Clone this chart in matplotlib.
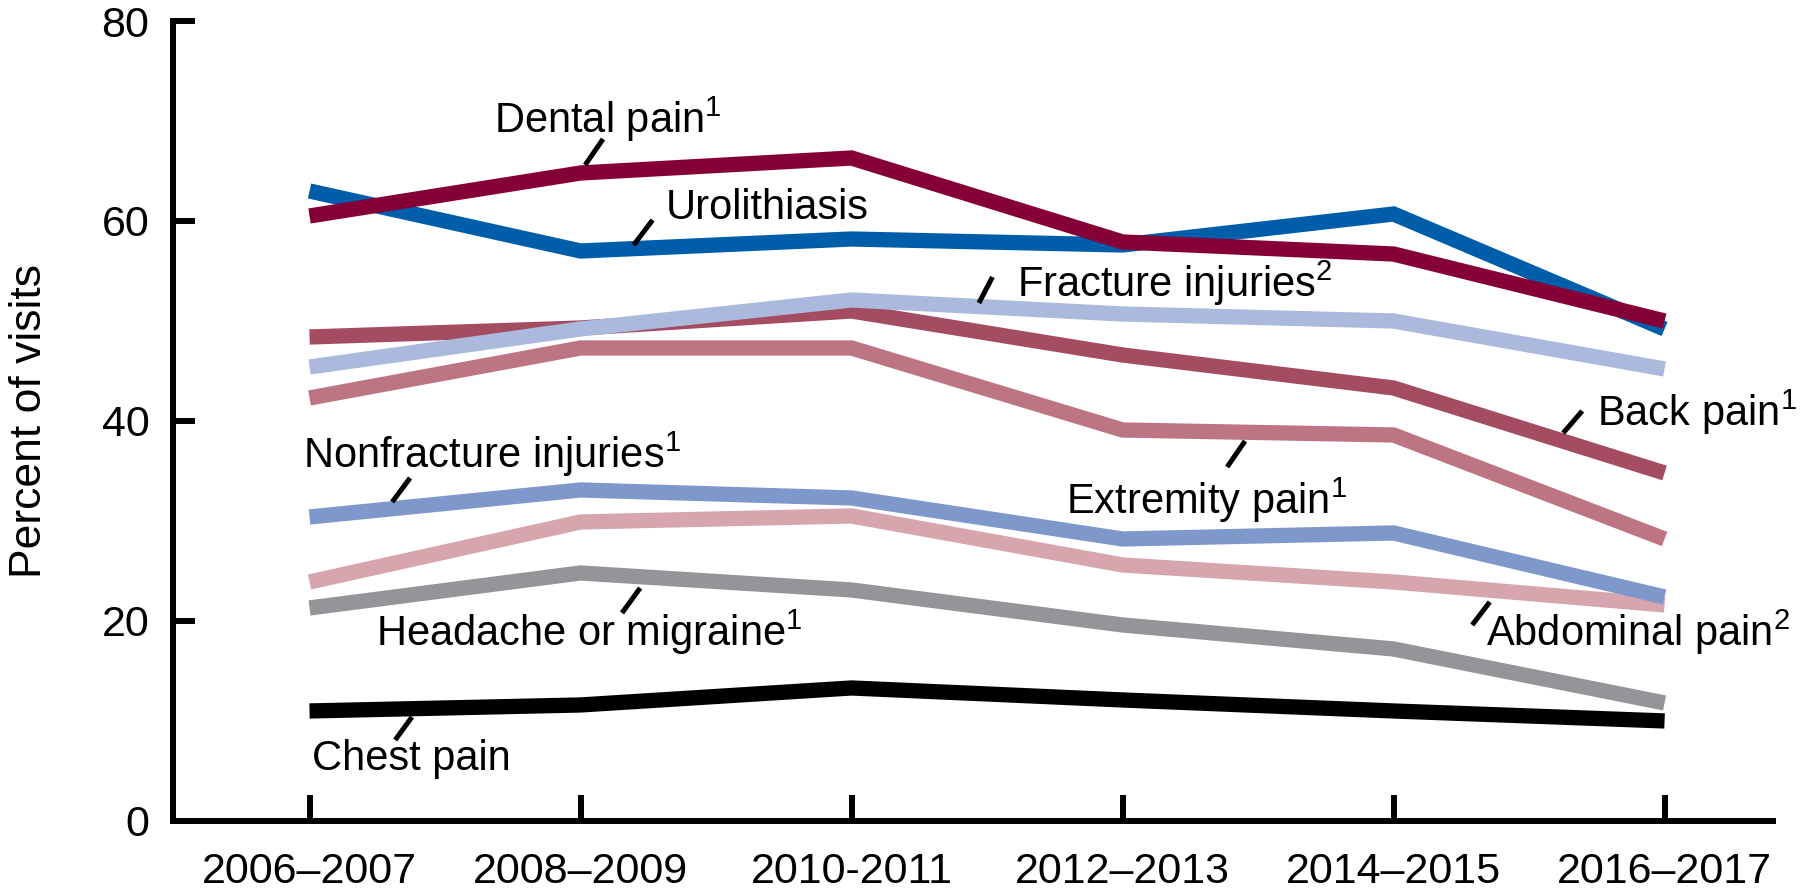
import matplotlib
import matplotlib.pyplot as plt
import numpy as np

matplotlib.use('Agg')
plt.rcParams['font.family'] = ['Liberation Sans', 'DejaVu Sans']
plt.rcParams['mathtext.fontset'] = 'custom'
plt.rcParams['mathtext.rm'] = 'Liberation Sans'
plt.rcParams['mathtext.default'] = 'regular'

periods = ['2006\u20132007', '2008\u20132009', '2010-2011',
           '2012\u20132013', '2014\u20132015', '2016\u20132017']

urolithiasis = [63.0, 57.0, 58.2, 57.6, 60.7, 49.2]
dental = [60.5, 64.8, 66.3, 57.9, 56.7, 50.0]
fracture = [45.4, 49.2, 52.1, 50.7, 50.0, 45.2]
back = [48.4, 49.3, 51.0, 46.6, 43.3, 34.8]
extremity = [42.3, 47.3, 47.3, 39.1, 38.6, 28.2]
nonfracture = [30.4, 33.1, 32.3, 28.2, 28.8, 22.4]
abdominal = [23.9, 29.9, 30.5, 25.6, 23.9, 21.6]
headache = [21.3, 24.8, 23.1, 19.6, 17.2, 11.8]
chest = [11.0, 11.6, 13.3, 12.1, 11.0, 10.0]

# drawing order: bottom first
series = [
    (chest, '#000000'),
    (headache, '#939598'),
    (abdominal, '#D6A5AD'),
    (nonfracture, '#7E98CB'),
    (extremity, '#BD7583'),
    (back, '#A34C62'),
    (fracture, '#ABB9DD'),
    (urolithiasis, '#005DAA'),
    (dental, '#850037'),
]

# label text, text position (x, y), leader line (x0, y0, x1, y1)
labels = [
    ('Dental pain$^1$', (0.68, 70.2), (1.017, 65.6, 1.083, 68.2)),
    ('Urolithiasis', (1.316, 61.3), (1.196, 57.6, 1.266, 60.1)),
    ('Fracture injuries$^2$', (2.61, 53.8), (2.47, 51.8, 2.52, 54.4)),
    ('Back pain$^1$', (4.75, 40.9), (4.626, 38.8, 4.696, 41.0)),
    ('Extremity pain$^1$', (2.79, 32.1), (3.386, 35.4, 3.452, 38.0)),
    ('Nonfracture injuries$^1$', (-0.024, 36.7), (0.305, 31.9, 0.371, 34.3)),
    ('Abdominal pain$^2$', (4.34, 18.9), (4.29, 19.6, 4.355, 21.9)),
    ('Headache or migraine$^1$', (0.246, 18.9), (1.153, 20.8, 1.220, 23.3)),
    ('Chest pain', (0.01, 6.2), (0.316, 8.1, 0.378, 10.4)),
]

fig = plt.figure(figsize=(18.11, 8.94), dpi=100)
ax = fig.add_axes([0.0955, 0.0817, 0.8835, 0.8948])

x = np.arange(len(periods))
for vals, color in series:
    ax.plot(x, vals, color=color, linewidth=11, solid_capstyle='butt',
            solid_joinstyle='miter')

for text, (tx, ty), (x0, y0, x1, y1) in labels:
    ax.text(tx, ty, text, fontsize=30, ha='left', va='center')
    ax.plot([x0, x1], [y0, y1], color='black', linewidth=3.6,
            solid_capstyle='butt')

ax.set_xlim(-0.504, 5.40)
ax.set_ylim(0, 80)
ax.set_xticks(x)
ax.set_xticklabels(periods)
ax.set_yticks([0, 20, 40, 60, 80])

for side in ['top', 'right']:
    ax.spines[side].set_visible(False)
for side in ['left', 'bottom']:
    ax.spines[side].set_linewidth(4.3)
ax.spines['left'].set_bounds(0, 80)

ax.tick_params(axis='y', direction='in', length=16, width=4.3,
               labelsize=31, pad=17)
ax.tick_params(axis='x', direction='in', length=19, width=4.3,
               labelsize=31, pad=22)

ax.set_ylabel('Percent of visits', fontsize=32)
ax.yaxis.set_label_coords(-0.077, 0.5)

plt.savefig('out.png', dpi=100)
